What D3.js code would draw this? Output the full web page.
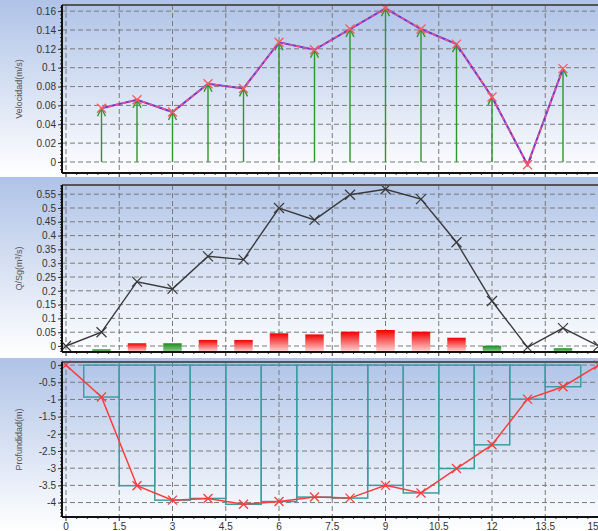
<!DOCTYPE html>
<html lang="en">
<meta charset="utf-8">
<style>
  body { margin: 0; background: #fff; }
  text { font-family: "Liberation Sans", Arial, sans-serif; }
</style>
<body>
<div id="my_dataviz"></div>

<script src="https://d3js.org/d3.v7.min.js"></script>

<script type="text/javascript">

// stations along the section (m)
var stations = [0, 1, 2, 3, 4, 5, 6, 7, 8, 9, 10, 11, 12, 13, 14, 15]
var xTicks = [0, 1.5, 3, 4.5, 6, 7.5, 9, 10.5, 12, 13.5, 15]

// velocity at verticals 1..14
var velStations = [1, 2, 3, 4, 5, 6, 7, 8, 9, 10, 11, 12, 13, 14]
var velocity = [0.057, 0.066, 0.053, 0.083, 0.078, 0.127, 0.119, 0.141, 0.163, 0.141, 0.125, 0.069, -0.003, 0.099]
var velTicks = [0, 0.02, 0.04, 0.06, 0.08, 0.1, 0.12, 0.14, 0.16]

// accumulated discharge
var discharge = [0, 0.05, 0.233, 0.207, 0.325, 0.313, 0.5, 0.457, 0.548, 0.568, 0.532, 0.376, 0.163, -0.005, 0.065, 0]
// partial discharge bars
var barStations = [1, 2, 3, 4, 5, 6, 7, 8, 9, 10, 11, 12, 14]
var barValues = [-0.012, 0.010, 0.010, 0.022, 0.022, 0.046, 0.042, 0.052, 0.058, 0.052, 0.030, 0.001, -0.008]
var barGroup = ["B", "A", "B", "A", "A", "A", "A", "A", "A", "A", "A", "B", "B"]
var qTicks = [0, 0.05, 0.1, 0.15, 0.2, 0.25, 0.3, 0.35, 0.4, 0.45, 0.5, 0.55]

// depth profile
var depth = [0, -0.93, -3.51, -3.93, -3.88, -4.05, -3.97, -3.84, -3.87, -3.5, -3.72, -3.01, -2.32, -0.99, -0.63, 0]
var depthTicks = [0, -0.5, -1, -1.5, -2, -2.5, -3, -3.5, -4]

var W = 598, H = 531
var svg = d3.select("#my_dataviz").append("svg")
  .attr("width", W).attr("height", H)

var defs = svg.append("defs")
var bg = defs.append("linearGradient").attr("id", "bg").attr("x1", 0).attr("x2", 0).attr("y1", 0).attr("y2", 1)
bg.append("stop").attr("offset", "0%").attr("stop-color", "#afc3e7")
bg.append("stop").attr("offset", "100%").attr("stop-color", "#ffffff")
var redG = defs.append("linearGradient").attr("id", "redG").attr("x1", 0).attr("x2", 0).attr("y1", 0).attr("y2", 1)
redG.append("stop").attr("offset", "0%").attr("stop-color", "#f00000")
redG.append("stop").attr("offset", "100%").attr("stop-color", "#ffd8d8")
var greenG = defs.append("linearGradient").attr("id", "greenG").attr("x1", 0).attr("x2", 0).attr("y1", 0).attr("y2", 1)
greenG.append("stop").attr("offset", "0%").attr("stop-color", "#1d8a1d")
greenG.append("stop").attr("offset", "100%").attr("stop-color", "#8fd08f")

var x = d3.scaleLinear().domain([0, 15]).range([66, 598.5])
var plotLeft = 62, plotRight = 610

// build one panel: background, grid, axes
function panel(top, bottom, bgTop, bgBottom, yDomain, ticks, title, showXLabels) {
  var g = svg.append("g")
  g.append("rect").attr("x", 0).attr("y", bgTop).attr("width", W).attr("height", bgBottom - bgTop)
    .attr("fill", "url(#bg)")
  var y = d3.scaleLinear().domain(yDomain).range([bottom, top])

  // grid
  g.selectAll(".hg").data(ticks).enter().append("line")
    .attr("x1", plotLeft).attr("x2", plotRight)
    .attr("y1", function(d) { return y(d) }).attr("y2", function(d) { return y(d) })
    .attr("stroke", "#7a7a7a").attr("stroke-dasharray", "5,3").attr("stroke-width", 1)
  g.selectAll(".vg").data(xTicks.slice(0, -1)).enter().append("line")
    .attr("x1", function(d) { return x(d) }).attr("x2", function(d) { return x(d) })
    .attr("y1", top).attr("y2", bottom)
    .attr("stroke", "#7a7a7a").attr("stroke-dasharray", "5,3").attr("stroke-width", 1)

  // y axis
  var yAxis = d3.axisLeft(y).tickValues(ticks).tickFormat(function(d) { return String(d) })
    .tickSize(4).tickPadding(2)
  var ya = g.append("g").attr("transform", "translate(" + plotLeft + ",0)").call(yAxis)
  ya.select(".domain").remove()
  ya.selectAll("text").attr("font-size", 10).attr("fill", "#333")
  ya.selectAll("line").attr("stroke", "#333")
  var step = Math.abs(ticks[1] - ticks[0]) / 5
  var lo = Math.min(yDomain[0], yDomain[1]), hi = Math.max(yDomain[0], yDomain[1])
  var minor = d3.range(Math.ceil(lo / step), Math.floor(hi / step) + 1).map(function(k) { return k * step })
  g.selectAll(".ym").data(minor).enter().append("line")
    .attr("x1", plotLeft - 2).attr("x2", plotLeft)
    .attr("y1", function(d) { return y(d) }).attr("y2", function(d) { return y(d) })
    .attr("stroke", "#333")

  // x ticks
  var xm = d3.range(0, 51).map(function(k) { return k * 0.3 })
  g.selectAll(".xm").data(xm).enter().append("line")
    .attr("x1", function(d) { return x(d) }).attr("x2", function(d) { return x(d) })
    .attr("y1", bottom).attr("y2", function(d, i) { return bottom + (i % 5 == 0 ? 4 : 2) })
    .attr("stroke", "#333")
  if (showXLabels) {
    g.selectAll(".xl").data(xTicks).enter().append("text")
      .attr("x", function(d) { return x(d) }).attr("y", bottom + 12.5)
      .attr("text-anchor", function(d, i) { return i == xTicks.length - 1 ? "end" : "middle" })
      .attr("font-size", 10).attr("fill", "#333")
      .text(function(d) { return d })
  }

  // title
  g.append("text")
    .attr("transform", "translate(22," + ((top + bottom) / 2) + ") rotate(-90)")
    .attr("text-anchor", "middle").attr("font-size", 9).attr("fill", "#555")
    .text(title)

  return {g: g, y: y, top: top, bottom: bottom}
}

function frame(p) {
  p.g.append("line").attr("x1", plotLeft).attr("x2", plotRight).attr("y1", p.top).attr("y2", p.top)
    .attr("stroke", "#555").attr("stroke-width", 2)
  p.g.append("line").attr("x1", plotLeft).attr("x2", plotRight).attr("y1", p.bottom).attr("y2", p.bottom)
    .attr("stroke", "#111").attr("stroke-width", 2)
  p.g.append("line").attr("x1", plotLeft).attr("x2", plotLeft).attr("y1", p.top).attr("y2", p.bottom)
    .attr("stroke", "#111").attr("stroke-width", 2)
}

function crosses(g, pts, color, r, w) {
  g.selectAll(null).data(pts).enter().append("path")
    .attr("d", function(d) {
      return "M" + (d[0] - r) + "," + (d[1] - r) + "L" + (d[0] + r) + "," + (d[1] + r) +
             "M" + (d[0] - r) + "," + (d[1] + r) + "L" + (d[0] + r) + "," + (d[1] - r)
    })
    .attr("stroke", color).attr("stroke-width", w).attr("fill", "none")
}

var line = d3.line().x(function(d) { return d[0] }).y(function(d) { return d[1] })

// ---- panel 1: velocity ----
var p1 = panel(5, 173, 0, 176, [-0.0117, 0.1665], velTicks, "Velocidad(m/s)", false)
var y1 = p1.y
var velPts = velStations.map(function(s, i) { return [x(s), y1(velocity[i])] })
// arrows
p1.g.selectAll(".arr").data(velStations).enter().append("path")
  .attr("d", function(s, i) {
    var px = x(s), y0 = y1(0), yt = y1(velocity[i])
    var dir = yt < y0 ? 1 : -1
    return "M" + px + "," + y0 + "L" + px + "," + yt +
      "M" + (px - 4) + "," + (yt + 8 * dir) + "L" + px + "," + yt + "L" + (px + 4) + "," + (yt + 8 * dir)
  })
  .attr("stroke", "#2e962e").attr("stroke-width", 1.4).attr("fill", "none")
p1.g.append("path").attr("d", line(velPts)).attr("fill", "none")
  .attr("stroke", "#6a3ad0").attr("stroke-width", 2)
p1.g.append("path").attr("d", line(velPts)).attr("fill", "none")
  .attr("stroke", "#f0508a").attr("stroke-width", 1.6).attr("stroke-dasharray", "4,3")
crosses(p1.g, velPts, "#ff5a5a", 4.5, 1.3)
frame(p1)

// ---- panel 2: discharge ----
var p2 = panel(185, 352, 177, 357, [-0.0217, 0.5833], qTicks, "Q/Sg(m\u00b3/s)", false)
var y2 = p2.y
var bw = x(0.52) - x(0)
p2.g.selectAll(".bar").data(barStations).enter().append("rect")
  .attr("x", function(s) { return x(s) - bw / 2 })
  .attr("y", function(s, i) { return y2(barValues[i]) })
  .attr("width", bw)
  .attr("height", function(s, i) { return p2.bottom - y2(barValues[i]) })
  .attr("fill", function(s, i) { return barGroup[i] == "A" ? "url(#redG)" : "url(#greenG)" })
var qPts = stations.map(function(s, i) { return [x(s), y2(discharge[i])] })
p2.g.append("path").attr("d", line(qPts)).attr("fill", "none")
  .attr("stroke", "#3a3a3a").attr("stroke-width", 1.4)
crosses(p2.g, qPts, "#3a3a3a", 5, 1.2)
frame(p2)

// ---- panel 3: depth ----
var p3 = panel(362, 517, 358, 531, [-4.42, 0.09], depthTicks, "Profundidad(m)", true)
var y3 = p3.y
p3.g.selectAll(".cell").data(stations.slice(1, -1)).enter().append("rect")
  .attr("x", function(s) { return x(s - 0.5) })
  .attr("y", y3(0))
  .attr("width", x(1) - x(0))
  .attr("height", function(s) { return y3(depth[s]) - y3(0) })
  .attr("fill", "none").attr("stroke", "#3a9fa3").attr("stroke-width", 1.5)
var dPts = stations.map(function(s, i) { return [x(s), y3(depth[i])] })
p3.g.append("path").attr("d", line(dPts)).attr("fill", "none")
  .attr("stroke", "#ff3b3b").attr("stroke-width", 1.5)
crosses(p3.g, dPts, "#ff3b3b", 4.5, 1.3)
frame(p3)

</script>
</body>
</html>
